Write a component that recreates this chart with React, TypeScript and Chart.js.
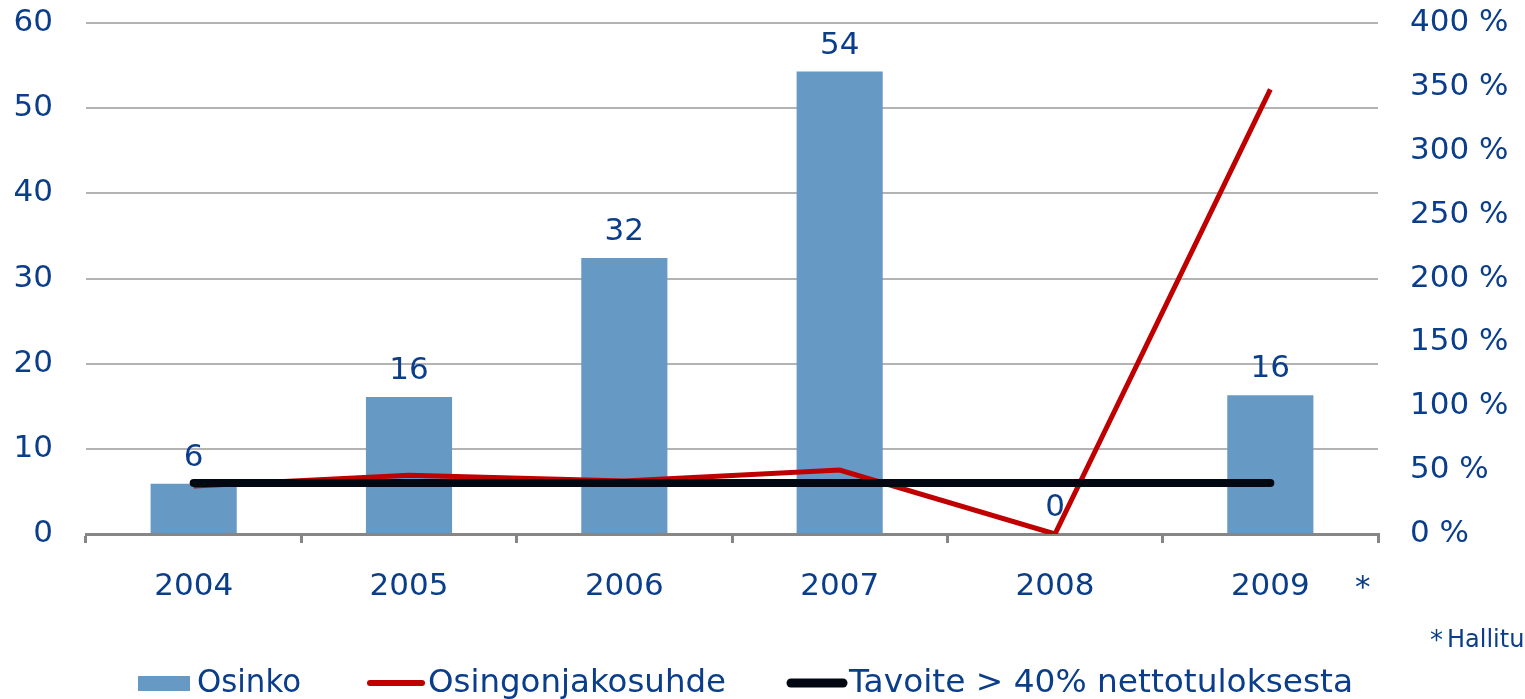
import React, { useEffect, useRef } from "react";
import { Chart, registerables } from "chart.js";

Chart.register(...registerables);

const categories = ["2004", "2005", "2006", "2007", "2008", "2009"];
const osinko = [5.9, 16.1, 32.4, 54.3, 0, 16.3];
const osinkoLabels = ["6", "16", "32", "54", "0", "16"];
const jakosuhde = [37.5, 46, 41.5, 50, 0, 348];
const tavoite = [40, 40, 40, 40, 40, 40];
const leftTicks = [0, 10, 20, 30, 40, 50, 60];
const rightTicks = [0, 50, 100, 150, 200, 250, 300, 350, 400];
const legendLabels = ["Osinko", "Osingonjakosuhde", "Tavoite > 40% nettotuloksesta"];
const footnoteMark = "*";
const footnote = "Hallituksen ehdotus";

const TEXT = "#0a3d8a";
const FONT = "DejaVu Sans";

function fitText(ctx: CanvasRenderingContext2D, text: string, x: number, y: number, w: number) {
  const m = ctx.measureText(text).width;
  ctx.save();
  ctx.translate(x, y);
  ctx.scale(w / m, 1);
  ctx.fillText(text, 0, 0);
  ctx.restore();
}

const extrasPlugin = {
  id: "extras",
  afterDatasetsDraw(chart: any) {
    const ctx = chart.ctx;
    const meta = chart.getDatasetMeta(0);
    ctx.save();
    ctx.fillStyle = TEXT;
    ctx.font = `31px "${FONT}"`;
    ctx.textAlign = "center";
    ctx.textBaseline = "alphabetic";
    meta.data.forEach((el: any, i: number) => {
      ctx.fillText(osinkoLabels[i], el.x, el.y - 18);
    });
    ctx.restore();
  },
  afterDraw(chart: any) {
    const ctx = chart.ctx;
    ctx.save();
    ctx.fillStyle = TEXT;
    ctx.textBaseline = "alphabetic";
    ctx.textAlign = "left";
    ctx.font = `31px "${FONT}"`;
    ctx.fillText("*", 1355, 597);
    ctx.font = `26px "${FONT}"`;
    ctx.fillText(footnoteMark, 1430, 649);
    ctx.font = `24px "${FONT}"`;
    ctx.fillText(footnote, 1447, 647);
    const ly = 683;
    ctx.fillStyle = "#6699c3";
    ctx.fillRect(138, ly - 7, 52, 15);
    ctx.lineCap = "round";
    ctx.strokeStyle = "#c00000";
    ctx.lineWidth = 6;
    ctx.beginPath();
    ctx.moveTo(370, ly);
    ctx.lineTo(422, ly);
    ctx.stroke();
    ctx.strokeStyle = "#020812";
    ctx.lineWidth = 9;
    ctx.beginPath();
    ctx.moveTo(791, ly);
    ctx.lineTo(843, ly);
    ctx.stroke();
    ctx.fillStyle = TEXT;
    ctx.font = `32px "${FONT}"`;
    ctx.textBaseline = "middle";
    fitText(ctx, legendLabels[0], 197, ly + 1, 104);
    fitText(ctx, legendLabels[1], 428, ly + 1, 298);
    fitText(ctx, legendLabels[2], 849, ly + 1, 504);
    ctx.restore();
  },
};

const fixPad = (s: any) => {
  s.paddingTop = 0;
  s.paddingBottom = 0;
};

export default function App() {
  const ref = useRef<HTMLCanvasElement | null>(null);
  useEffect(() => {
    if (!ref.current) return;
    const chart = new Chart(ref.current, {
      type: "bar",
      data: {
        labels: categories,
        datasets: [
          {
            type: "bar",
            label: legendLabels[0],
            data: osinko,
            backgroundColor: "#6699c3",
            yAxisID: "y",
            barPercentage: 0.8,
            categoryPercentage: 0.5,
            order: 3,
          },
          {
            type: "line",
            label: legendLabels[1],
            data: jakosuhde,
            borderColor: "#c00000",
            borderWidth: 5,
            pointRadius: 0,
            tension: 0,
            yAxisID: "y1",
            order: 2,
          },
          {
            type: "line",
            label: legendLabels[2],
            data: tavoite,
            borderColor: "#020812",
            borderWidth: 8,
            borderCapStyle: "round",
            pointRadius: 0,
            tension: 0,
            yAxisID: "y1",
            order: 1,
          },
        ] as any,
      },
      options: {
        animation: false,
        responsive: false,
        maintainAspectRatio: false,
        layout: { padding: { top: 23, left: 0, right: 0, bottom: 0 } },
        plugins: {
          legend: { display: false },
          tooltip: { enabled: false },
        },
        scales: {
          x: {
            offset: true,
            grid: {
              offset: true,
              drawOnChartArea: false,
              drawTicks: true,
              tickLength: 9,
              color: "#868686",
              lineWidth: 3,
            },
            border: { display: true, color: "#868686", width: 3 },
            ticks: {
              color: TEXT,
              font: { family: FONT, size: 31 },
              padding: 25,
              maxRotation: 0,
            },
            afterFit: (s: any) => {
              s.height = 165;
              s.paddingLeft = 0;
              s.paddingRight = 0;
            },
          },
          y: {
            position: "left",
            min: 0,
            max: 60,
            afterBuildTicks: (s: any) => {
              s.ticks = leftTicks.map((v) => ({ value: v }));
            },
            grid: { color: "#b3b3b3", lineWidth: 2, drawTicks: false },
            border: { display: false },
            ticks: {
              color: TEXT,
              font: { family: FONT, size: 31 },
              padding: 33,
            },
            afterFit: (s: any) => {
              s.width = 86;
              fixPad(s);
            },
          },
          y1: {
            position: "right",
            min: 0,
            max: 400,
            afterBuildTicks: (s: any) => {
              s.ticks = rightTicks.map((v) => ({ value: v }));
            },
            grid: { display: false, drawTicks: false },
            border: { display: false },
            ticks: {
              color: TEXT,
              font: { family: FONT, size: 31 },
              padding: 32,
              callback: (v: any) => `${v} %`,
            },
            afterFit: (s: any) => {
              s.width = 147;
              fixPad(s);
            },
          },
        },
      },
      plugins: [extrasPlugin],
    });
    return () => chart.destroy();
  }, []);
  return (
    <div style={{ position: "absolute", left: 0, top: 0, width: 1525, height: 699, background: "#fff" }}>
      <canvas ref={ref} width={1525} height={699} style={{ display: "block" }} />
    </div>
  );
}
